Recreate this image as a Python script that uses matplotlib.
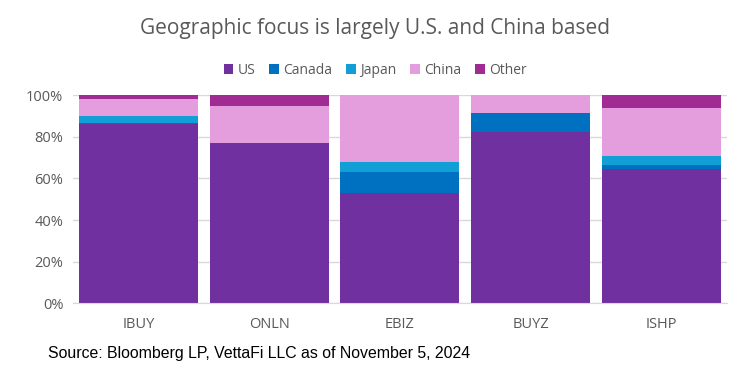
import numpy as np
import matplotlib.pyplot as plt
from matplotlib.ticker import PercentFormatter

# Data (share of holdings, %)
funds = ['IBUY', 'ONLN', 'EBIZ', 'BUYZ', 'ISHP']
us = [86, 77, 53, 82.5, 64.5]
canada = [0.5, 0, 10, 9.2, 2]
japan = [3.5, 0, 4.8, 0, 4.2]
china = [8, 18, 32.2, 8.3, 23.3]
other = [2, 5, 0, 0, 6]

series = [('US', us, '#7030A0'), ('Canada', canada, '#0070C0'),
          ('Japan', japan, '#129FD6'), ('China', china, '#E49EDD'),
          ('Other', other, '#A02B93')]

plt.rcParams['font.family'] = ['Open Sans', 'DejaVu Sans']
grey = '#595959'

fig = plt.figure(figsize=(7.5, 3.75), dpi=100)
ax = fig.add_axes([0.0973, 0.1912, 0.872, 0.5547])

x = np.arange(len(funds))
bottom = np.zeros(len(funds))
for name, vals, col in series:
    ax.bar(x, vals, bottom=bottom, width=0.91, color=col, label=name, zorder=2)
    bottom += np.array(vals)

ax.set_xlim(-0.5, len(funds) - 0.5)
ax.set_ylim(0, 100)
ax.set_yticks(np.arange(0, 101, 20))
ax.yaxis.set_major_formatter(PercentFormatter(decimals=0))
ax.set_xticks(x)
ax.set_xticklabels(funds)
ax.grid(axis='y', color='#d9d9d9', linewidth=1, zorder=0)
ax.tick_params(axis='both', length=0, colors=grey, labelsize=10.5, pad=7)
ax.tick_params(axis='x', pad=10)
for s in ['top', 'right', 'left']:
    ax.spines[s].set_visible(False)
ax.spines['bottom'].set_color('#d9d9d9')

fig.text(0.5, 0.925, 'Geographic focus is largely U.S. and China based',
         ha='center', va='center', fontsize=15, color=grey)
fig.legend(loc='center', bbox_to_anchor=(0.5, 0.813), ncol=5, frameon=False,
           fontsize=10, labelcolor=grey, handlelength=0.7, handleheight=0.7,
           handletextpad=0.3, columnspacing=1.0)
fig.text(0.064, 0.058, 'Source: Bloomberg LP, VettaFi LLC as of November 5, 2024',
         ha='left', va='center', fontsize=11.4, color='black',
         family='Liberation Sans')

plt.savefig('out.png', dpi=100)
plt.close()
